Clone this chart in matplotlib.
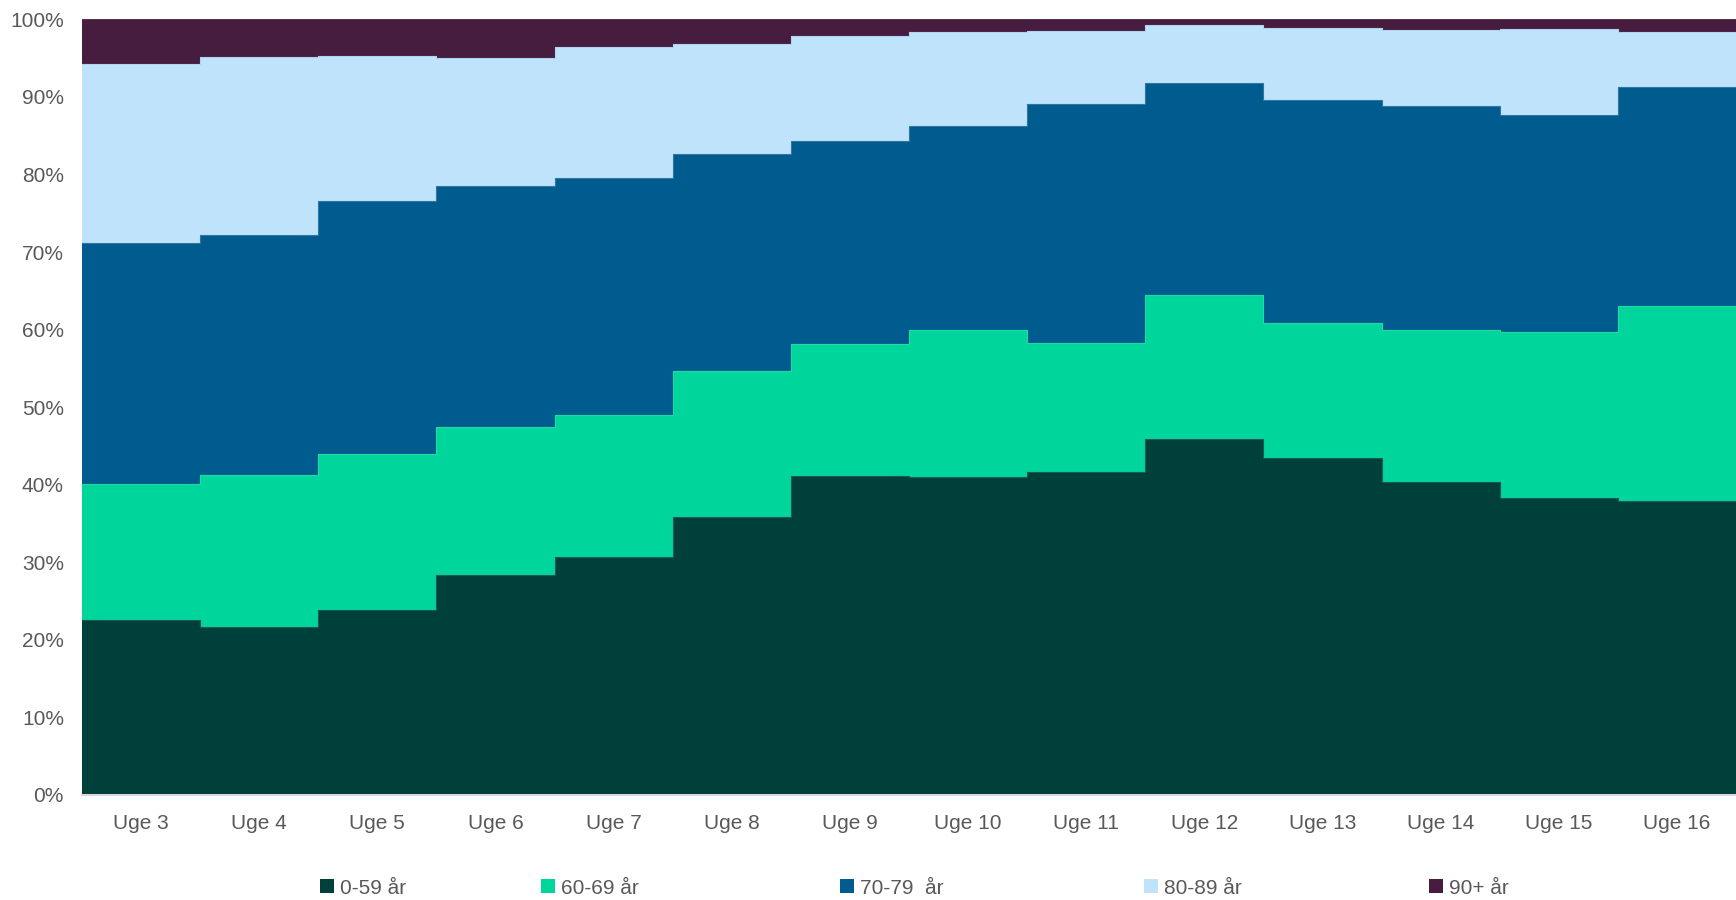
import numpy as np
import matplotlib
matplotlib.use("Agg")
import matplotlib.pyplot as plt
from matplotlib.patches import Patch

plt.rcParams['font.family'] = ['Liberation Sans', 'DejaVu Sans']

weeks = ["Uge 3", "Uge 4", "Uge 5", "Uge 6", "Uge 7", "Uge 8", "Uge 9",
         "Uge 10", "Uge 11", "Uge 12", "Uge 13", "Uge 14", "Uge 15", "Uge 16"]
series_names = ["0-59 år", "60-69 år", "70-79  år", "80-89 år", "90+ år"]

# cumulative tops (%)
cum_0_59 = [22.5, 21.7, 23.8, 28.4, 30.7, 35.9, 41.1, 41.0, 41.7, 45.9, 43.4, 40.4, 38.3, 37.9]
cum_60_69 = [40.1, 41.3, 43.9, 47.4, 49.0, 54.7, 58.1, 59.9, 58.3, 64.4, 60.9, 60.0, 59.7, 63.0]
cum_70_79 = [71.2, 72.2, 76.6, 78.5, 79.5, 82.6, 84.3, 86.2, 89.1, 91.8, 89.6, 88.8, 87.7, 91.3]
cum_80_89 = [94.2, 95.2, 95.3, 95.0, 96.4, 96.8, 97.8, 98.3, 98.5, 99.3, 98.9, 98.6, 98.7, 98.4]

s_0_59 = np.array(cum_0_59)
s_60_69 = np.array(cum_60_69) - np.array(cum_0_59)
s_70_79 = np.array(cum_70_79) - np.array(cum_60_69)
s_80_89 = np.array(cum_80_89) - np.array(cum_70_79)
s_90 = 100 - np.array(cum_80_89)
values = [s_0_59, s_60_69, s_70_79, s_80_89, s_90]

colors = ["#00403A", "#00D69B", "#005B8E", "#C0E3FC", "#461C3F"]
edge_colors = ["#1f5a54", "#20dba6", "#2f77a0", "#b0d4ec", "#5a3654"]

fig = plt.figure(figsize=(17.36, 9.0), dpi=100)
ax = fig.add_axes([82/1736, 105/900, 1 - 82/1736, (795 - 19.3)/900])

n = len(weeks)
x = np.arange(n + 1)
bottom = np.zeros(n)
for vals, col, ec in zip(values, colors, edge_colors):
    top = bottom + vals
    ax.fill_between(x, np.append(bottom, bottom[-1]), np.append(top, top[-1]),
                    step='post', color=col, linewidth=0, zorder=2)
    ax.step(x, np.append(top, top[-1]), where='post', color=ec, linewidth=0.8, zorder=3)
    bottom = top

ax.set_xlim(0, n)
ax.set_ylim(0, 100)
ax.set_yticks(np.arange(0, 101, 10))
ax.set_yticklabels([f"{v}%" for v in range(0, 101, 10)])
ax.set_xticks(np.arange(n) + 0.5)
ax.set_xticklabels(weeks)
ax.tick_params(axis='both', length=0, labelsize=15, colors="#595959")
ax.tick_params(axis='x', pad=14)
ax.tick_params(axis='y', pad=13)
ax.yaxis.grid(True, color="#D9D9D9", linewidth=1, zorder=0)
ax.set_axisbelow(True)
for side in ["top", "right", "left"]:
    ax.spines[side].set_visible(False)
ax.spines["bottom"].set_color("#D9D9D9")
ax.spines["bottom"].set_linewidth(1.5)
ax.spines["bottom"].set_zorder(4)

leg_x = [320, 541, 840, 1144, 1429]
for name, col, lx in zip(series_names, colors, leg_x):
    fig.legend(handles=[Patch(facecolor=col, edgecolor='none')], labels=[name],
               loc='center left', bbox_to_anchor=(lx/1736, 12/900), frameon=False,
               handlelength=0.65, handleheight=0.65, handletextpad=0.3,
               borderpad=0, borderaxespad=0, fontsize=15, labelcolor="#595959")

fig.savefig("out.png", dpi=100)
